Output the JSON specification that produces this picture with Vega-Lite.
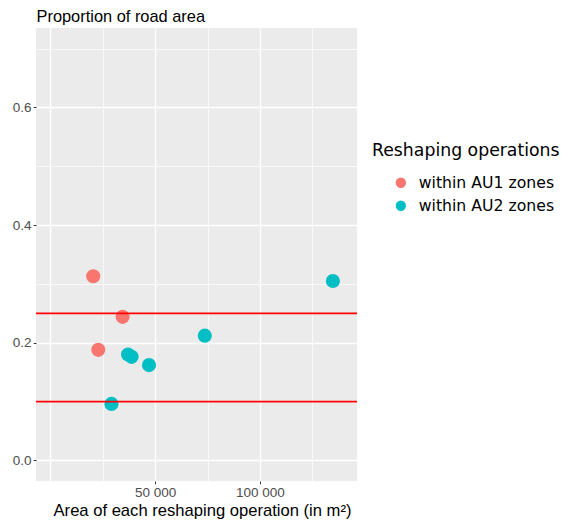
{
  "$schema": "https://vega.github.io/schema/vega-lite/v6.json",
  "autosize": "none",
  "width": 321,
  "height": 453,
  "padding": {"left": 36, "top": 28, "right": 209, "bottom": 44},
  "background": "white",
  "config": {
    "font": "DejaVu Sans",
    "view": {"fill": "#EBEBEB", "stroke": null},
    "axis": {
      "domain": false,
      "gridColor": "white",
      "tickColor": "#333333",
      "tickSize": 2.7,
      "tickWidth": 1,
      "labelColor": "#4D4D4D",
      "labelFont": "Liberation Sans",
      "labelFontSize": 13.5,
      "labelPadding": 2.2,
      "titleColor": "black",
      "titleFont": "Liberation Sans",
      "titleFontSize": 16.4,
      "titleFontWeight": "normal"
    }
  },
  "datasets": {
    "ops": [
      {"zone": "within AU1 zones", "area": 20500, "prop": 0.313},
      {"zone": "within AU1 zones", "area": 22900, "prop": 0.188},
      {"zone": "within AU1 zones", "area": 34500, "prop": 0.244},
      {"zone": "within AU2 zones", "area": 29200, "prop": 0.096},
      {"zone": "within AU2 zones", "area": 37100, "prop": 0.180},
      {"zone": "within AU2 zones", "area": 38800, "prop": 0.176},
      {"zone": "within AU2 zones", "area": 47100, "prop": 0.162},
      {"zone": "within AU2 zones", "area": 73700, "prop": 0.212},
      {"zone": "within AU2 zones", "area": 134800, "prop": 0.305}
    ],
    "thresholds": [{"yint": 0.1}, {"yint": 0.25}]
  },
  "layer": [
    {
      "data": {"name": "ops"},
      "mark": {"type": "point", "filled": true, "opacity": 1, "size": 200},
      "encoding": {
        "x": {
          "field": "area", "type": "quantitative",
          "scale": {"domain": [-6800, 146300], "nice": false, "zero": false},
          "axis": {
            "values": [0, 25000, 50000, 75000, 100000, 125000],
            "labelExpr": "(datum.value == 50000 || datum.value == 100000) ? replace(format(datum.value, ','), ',', ' ') : ''",
            "gridWidth": {"condition": {"test": "datum.value % 50000 == 0", "value": 1.4}, "value": 0.7},
            "tickOpacity": {"condition": {"test": "datum.value == 50000 || datum.value == 100000", "value": 1}, "value": 0},
            "title": "Area of each reshaping operation (in m²)",
            "titleX": 166,
            "titleY": 34.5,
            "titleFontSize": 16.6,
            "titleAlign": "center",
            "titleBaseline": "alphabetic"
          }
        },
        "y": {
          "field": "prop", "type": "quantitative",
          "scale": {"domain": [-0.035, 0.735], "nice": false, "zero": false},
          "axis": {
            "values": [0, 0.1, 0.2, 0.3, 0.4, 0.5, 0.6, 0.7],
            "labelExpr": "round(datum.value * 10) % 2 == 0 ? format(datum.value, '.1f') : ''",
            "gridWidth": {"condition": {"test": "round(datum.value * 10) % 2 == 0", "value": 1.4}, "value": 0.7},
            "tickOpacity": {"condition": {"test": "round(datum.value * 10) % 2 == 0", "value": 1}, "value": 0},
            "title": "Proportion of road area",
            "titleAngle": 0,
            "titleX": 0,
            "titleY": -6.3,
            "titleAlign": "left",
            "titleBaseline": "alphabetic"
          }
        },
        "color": {
          "field": "zone", "type": "nominal",
          "scale": {"domain": ["within AU1 zones", "within AU2 zones"], "range": ["#F8766D", "#00BFC4"]},
          "legend": {
            "title": "Reshaping operations",
            "orient": "none",
            "legendX": 336,
            "legendY": 113.6,
            "titleFontSize": 17.3,
            "titleFontWeight": "normal",
            "titleColor": "black",
            "titleLimit": 400,
            "titlePadding": 16,
            "labelFontSize": 15.7,
            "labelColor": "black",
            "labelLimit": 400,
            "symbolType": "circle",
            "symbolSize": 106,
            "symbolOpacity": 1,
            "symbolStrokeWidth": 0,
            "symbolOffset": 21,
            "labelOffset": 10,
            "rowPadding": 6
          }
        }
      }
    },
    {
      "data": {"name": "thresholds"},
      "mark": {"type": "rule", "color": "#FF0000", "strokeWidth": 1.6},
      "encoding": {
        "y": {"field": "yint", "type": "quantitative"}
      }
    }
  ]
}
